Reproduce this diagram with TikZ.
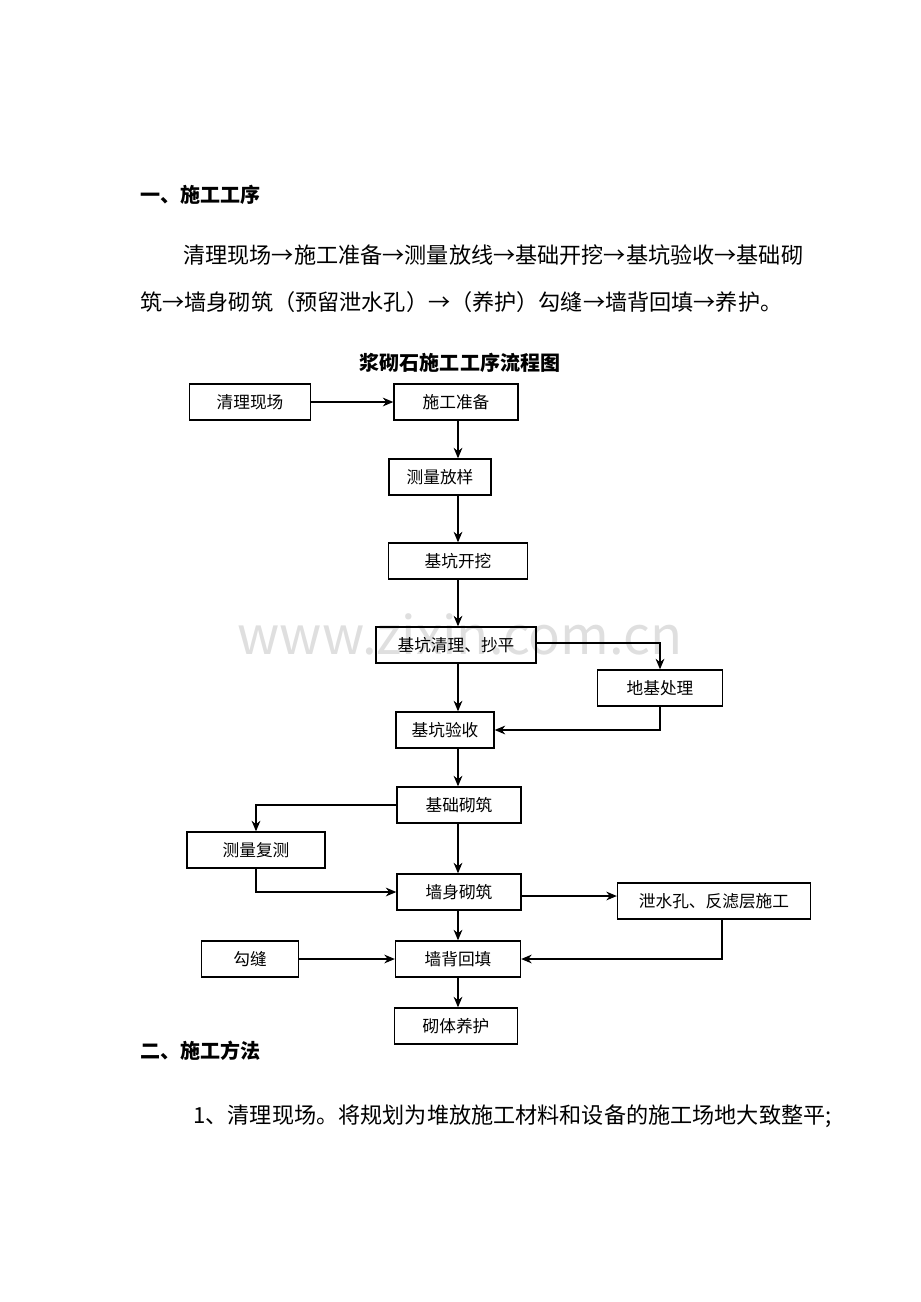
\documentclass[tikz,border=0pt]{standalone}
\usepackage{fontspec}
\setmainfont{Noto Sans CJK SC}
\usetikzlibrary{arrows.meta,positioning}
\tikzset{
  stage/.style={draw, thick, minimum height=0.72cm, inner sep=0pt, font=\fontsize{9.5pt}{11pt}\selectfont},
  flow/.style={-{Stealth[length=6pt,width=5pt]}, semithick},
  body/.style={font=\fontsize{12.6pt}{14pt}\selectfont, inner sep=0pt}
}
\begin{document}
\begin{tikzpicture}[x=0.02cm, y=-0.02cm]
    \useasboundingbox (0,0) rectangle (920,1302);
    % Text above
    \node[body, font=\fontsize{11.4pt}{13pt}\selectfont\bfseries, anchor=west] (h1) at (140,195) {一、施工工序};
    \node[body, anchor=west] (p1) at (183,255) {清理现场→施工准备→测量放线→基础开挖→基坑验收→基础砌};
    \node[body, anchor=west] (p2) at (140,302) {筑→墙身砌筑（预留泄水孔）→（养护）勾缝→墙背回填→养护。};
    \node[body, font=\fontsize{11.4pt}{13pt}\selectfont\bfseries] (title) at (460,363) {浆砌石施工工序流程图};
    % Watermark
    \node[text=gray!25, font=\fontsize{30pt}{32pt}\selectfont] (wm) at (460,634) {www.zixin.com.cn};

    % Boxes
    \node[stage, minimum width=2.42cm] (clean) at (250,402) {清理现场};
    \node[stage, minimum width=2.48cm] (prep) at (456,402) {施工准备};
    \node[stage, minimum width=2.04cm] (survey) at (440,477) {测量放样};
    \node[stage, minimum width=2.78cm] (dig) at (458,561) {基坑开挖};
    \node[stage, minimum width=3.2cm] (level) at (456,645) {基坑清理、抄平};
    \node[stage, minimum width=2.5cm] (ground) at (660,688) {地基处理};
    \node[stage, minimum width=1.96cm] (check) at (445,730) {基坑验收};
    \node[stage, minimum width=2.48cm] (base) at (459,805) {基础砌筑};
    \node[stage, minimum width=2.76cm] (resurvey) at (256,850) {测量复测};
    \node[stage, minimum width=2.48cm] (wall) at (459,892) {墙身砌筑};
    \node[stage, minimum width=3.86cm] (drain) at (714,901) {泄水孔、反滤层施工};
    \node[stage, minimum width=1.94cm] (joint) at (250,959) {勾缝};
    \node[stage, minimum width=2.5cm] (fill) at (458,959) {墙背回填};
    \node[stage, minimum width=2.46cm] (cure) at (456,1026) {砌体养护};

    % Connectors
    \coordinate (c) at (458,0);
    \draw[flow] (clean) -- (prep);
    \draw[flow] (prep.south -| c) -- (survey.north -| c);
    \draw[flow] (survey.south -| c) -- (dig.north -| c);
    \draw[flow] (dig.south -| c) -- (level.north -| c);
    \draw[flow] (level.south -| c) -- (check.north -| c);
    \draw[flow] (level.east |- 0,643) -| (ground.north);
    \draw[flow] (ground.south) |- (check.east);
    \draw[flow] (check.south -| c) -- (base.north -| c);
    \draw[flow] (base.south -| c) -- (wall.north -| c);
    \draw[flow] (base.west) -| (resurvey.north);
    \draw[flow] (resurvey.south) |- (wall.west);
    \draw[flow] (wall.east |- 0,896) -- (drain.west |- 0,896);
    \draw[flow] (wall.south -| c) -- (fill.north -| c);
    \draw[flow] (drain.south -| 722,0) |- (fill.east);
    \draw[flow] (joint) -- (fill);
    \draw[flow] (fill.south -| c) -- (cure.north -| c);

    % Text below
    \node[body, font=\fontsize{11.4pt}{13pt}\selectfont\bfseries, anchor=west] (h2) at (140,1051) {二、施工方法};
    \node[body, anchor=west] (p3) at (193,1116) {1、清理现场。将规划为堆放施工材料和设备的施工场地大致整平;};
\end{tikzpicture}
\end{document}
